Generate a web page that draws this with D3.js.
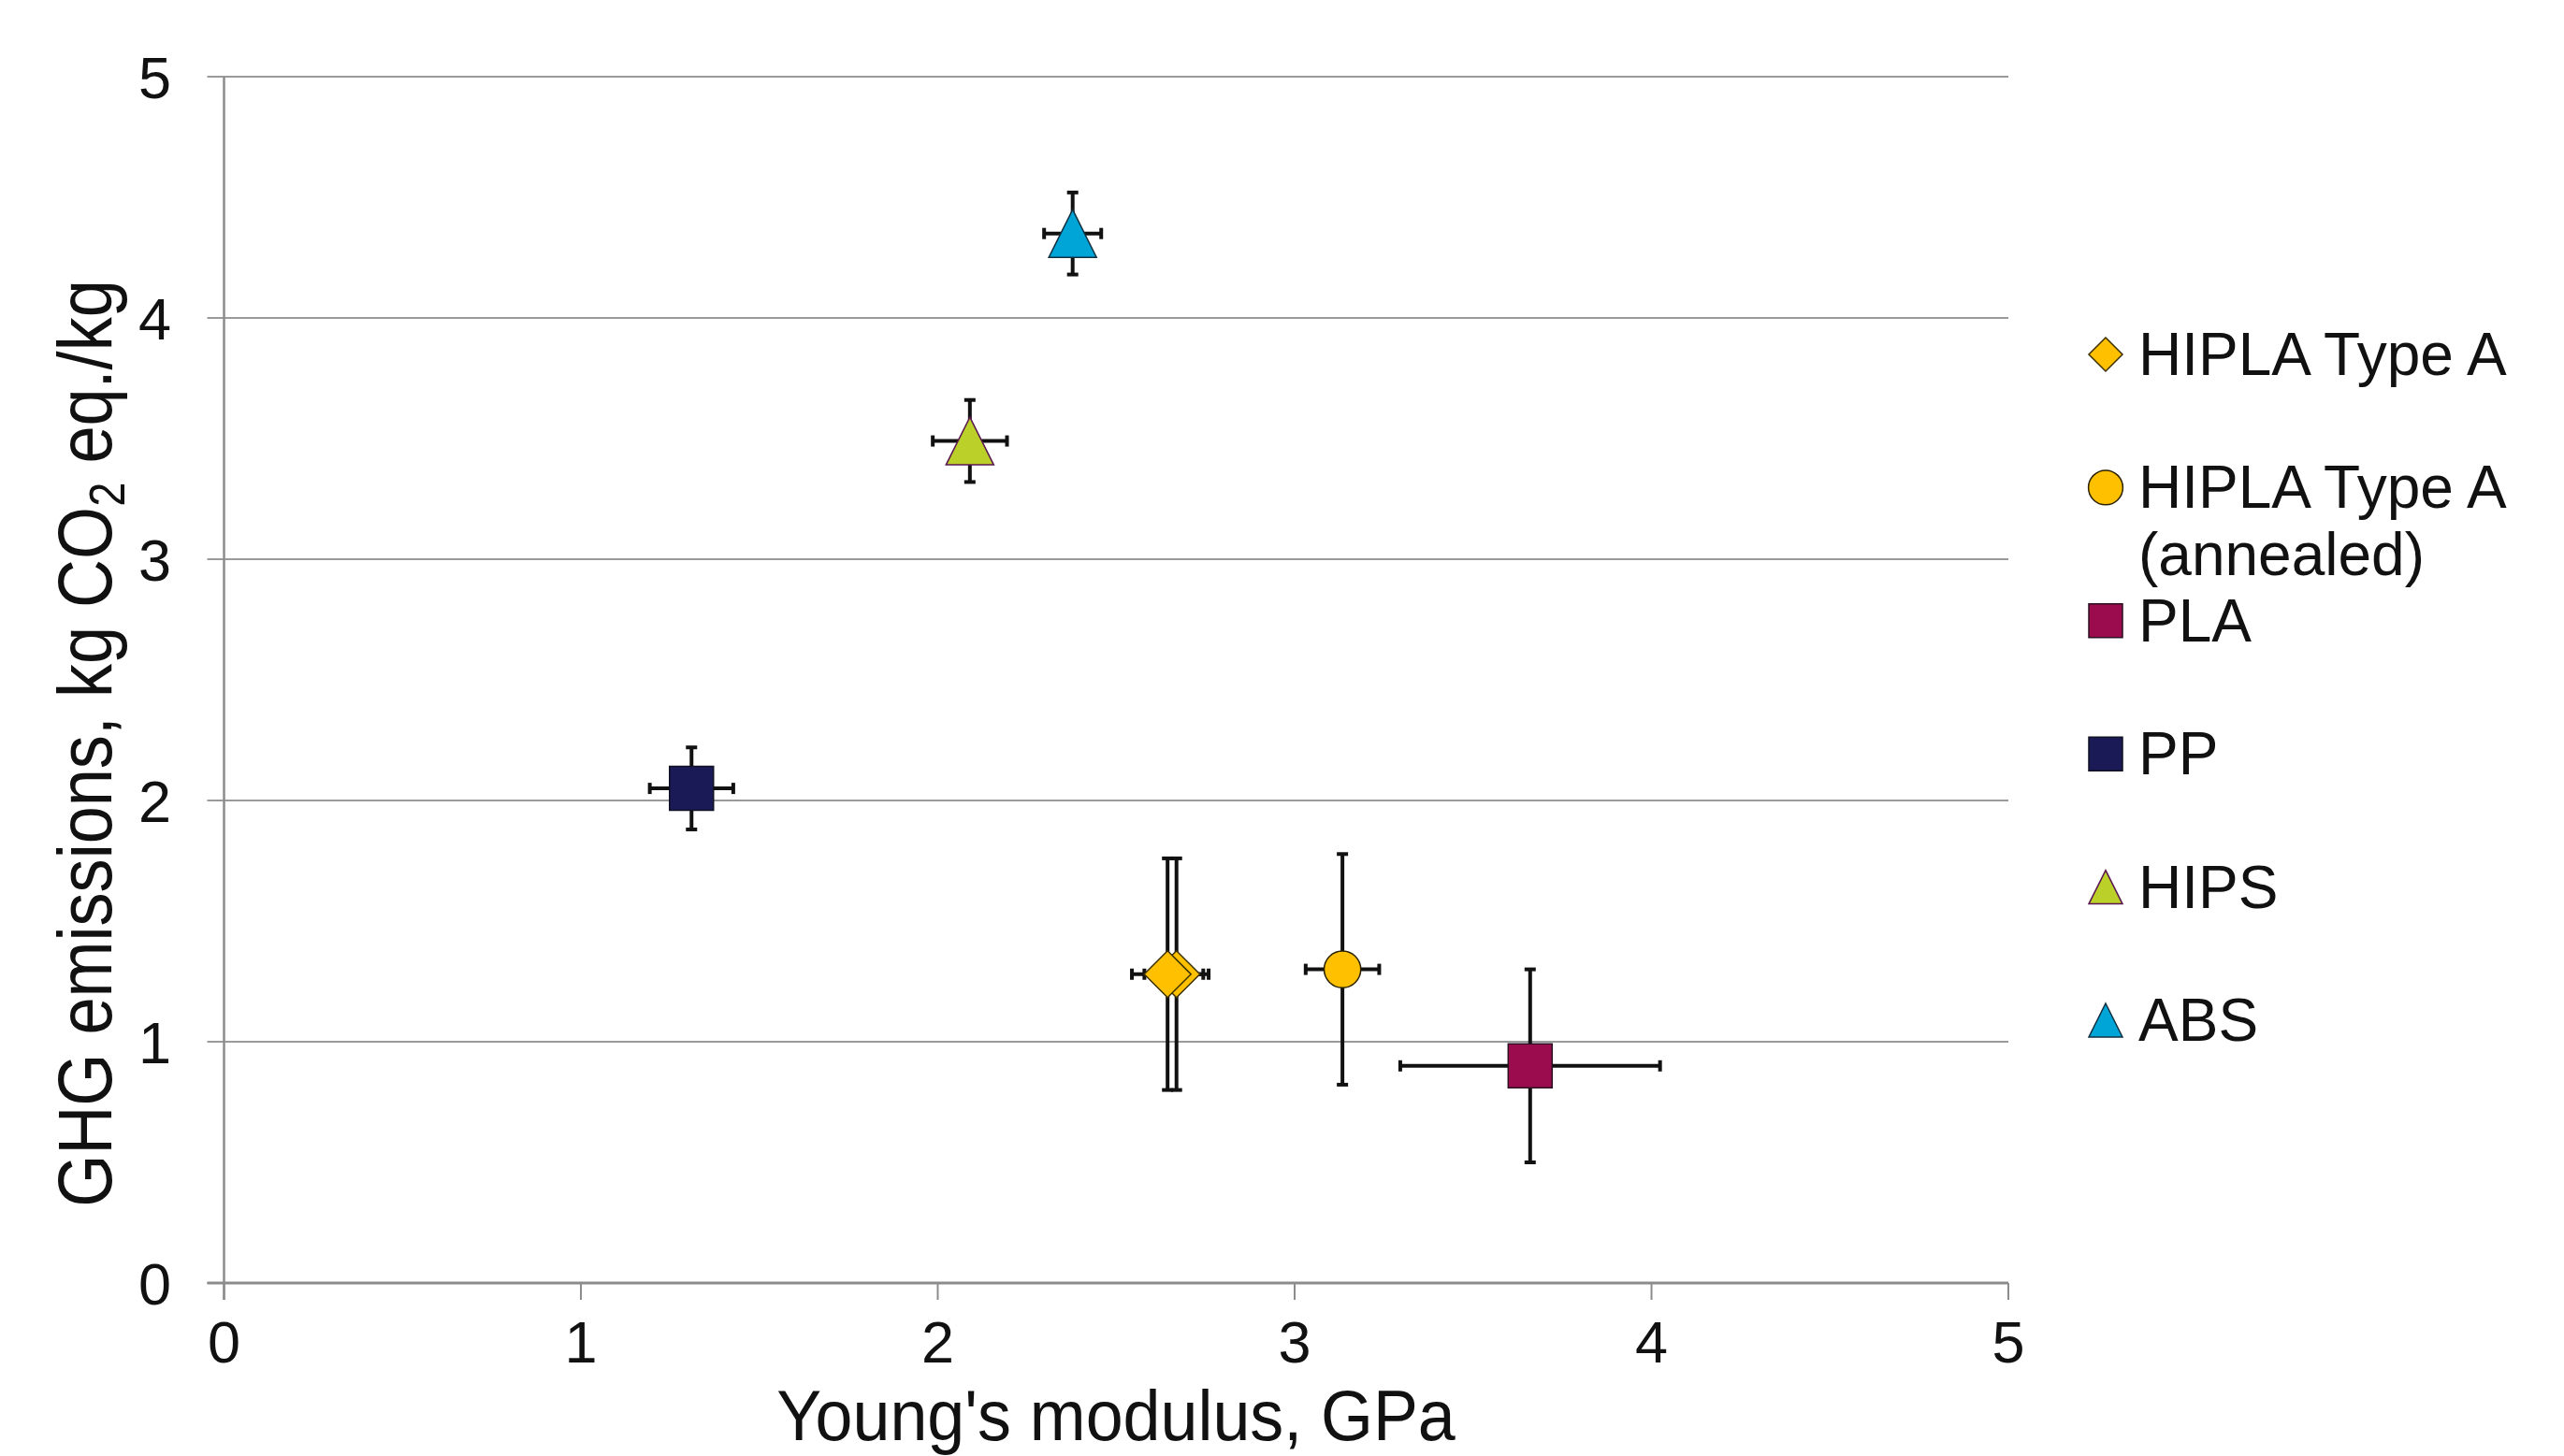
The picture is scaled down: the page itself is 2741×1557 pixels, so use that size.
<!DOCTYPE html>
<html>
<head>
<meta charset="utf-8">
<script src="https://cdn.jsdelivr.net/npm/d3@7"></script>
<style>
  html, body { margin: 0; padding: 0; background: #fff; }
  svg { display: block; }
  text { font-family: "Liberation Sans", Arial, sans-serif; fill: #111; }
</style>
</head>
<body>
<script>
// ---------- data ----------
const seriesNames = ["HIPLA Type A", "HIPLA Type A (annealed)", "PLA", "PP", "HIPS", "ABS"];
const legendLines = [["HIPLA Type A"], ["HIPLA Type A", "(annealed)"], ["PLA"], ["PP"], ["HIPS"], ["ABS"]];

const hiplaA_x    = [2.669, 2.644];
const hiplaA_y    = [1.28, 1.28];
const hiplaA_xerr = [0.09, 0.10];
const hiplaA_yerr = [0.48, 0.48];

const annealed_x    = [3.134];
const annealed_y    = [1.30];
const annealed_xerr = [0.103];
const annealed_yerr = [0.478];

const pla_x    = [3.66];
const pla_y    = [0.90];
const pla_xerr = [0.364];
const pla_yerr = [0.40];

const pp_x    = [1.31];
const pp_y    = [2.05];
const pp_xerr = [0.117];
const pp_yerr = [0.17];

const hips_x    = [2.09];
const hips_y    = [3.49];
const hips_xerr = [0.104];
const hips_yerr = [0.17];

const abs_x    = [2.378];
const abs_y    = [4.35];
const abs_xerr = [0.08];
const abs_yerr = [0.17];

const xTicks = [0, 1, 2, 3, 4, 5];
const yTicks = [0, 1, 2, 3, 4, 5];
const xTitle = "Young's modulus, GPa";

// ---------- styling ----------
const W = 2741, H = 1557;
const styles = {
  "HIPLA Type A":            { shape: "diamond",  fill: "#FFC000", stroke: "#3a3000" },
  "HIPLA Type A (annealed)": { shape: "circle",   fill: "#FFC000", stroke: "#2a2200" },
  "PLA":                     { shape: "square",   fill: "#9B0C4F", stroke: "#2a1020" },
  "PP":                      { shape: "square",   fill: "#1A1A57", stroke: "#111122" },
  "HIPS":                    { shape: "triangle", fill: "#BCD02A", stroke: "#5a1650" },
  "ABS":                     { shape: "triangle", fill: "#00A5D8", stroke: "#103040" }
};

const seriesData = [
  { name: seriesNames[0], xs: hiplaA_x,   ys: hiplaA_y,   xe: hiplaA_xerr,   ye: hiplaA_yerr },
  { name: seriesNames[1], xs: annealed_x, ys: annealed_y, xe: annealed_xerr, ye: annealed_yerr },
  { name: seriesNames[2], xs: pla_x,      ys: pla_y,      xe: pla_xerr,      ye: pla_yerr },
  { name: seriesNames[3], xs: pp_x,       ys: pp_y,       xe: pp_xerr,       ye: pp_yerr },
  { name: seriesNames[4], xs: hips_x,     ys: hips_y,     xe: hips_xerr,     ye: hips_yerr },
  { name: seriesNames[5], xs: abs_x,      ys: abs_y,      xe: abs_xerr,      ye: abs_yerr }
];

const points = [];
seriesData.forEach(s => s.xs.forEach((xv, i) => points.push({
  name: s.name, x: xv, y: s.ys[i], xe: s.xe[i], ye: s.ye[i]
})));

// ---------- scales ----------
const x = d3.scaleLinear().domain([0, 5]).range([239.5, 2147]);
const y = d3.scaleLinear().domain([0, 5]).range([1372, 82]);

const svg = d3.select("body").append("svg").attr("width", W).attr("height", H);

// marker path generator (pixel sizes)
function markerPath(shape, size) {
  const h = size / 2;
  if (shape === "diamond") return `M0,${-h}L${h},0L0,${h}L${-h},0Z`;
  if (shape === "square") return `M${-h},${-h}H${h}V${h}H${-h}Z`;
  if (shape === "triangle") return `M0,${-h}L${h},${h}L${-h},${h}Z`;
  if (shape === "circle") { const r = h * 0.8; return `M${r},0A${r},${r} 0 1,1 ${-r},0A${r},${r} 0 1,1 ${r},0Z`; }
  return "";
}

// ---------- grid ----------
const grid = svg.append("g");
grid.selectAll("line.h").data(yTicks).join("line")
  .attr("x1", x(0) - 18).attr("x2", x(5))
  .attr("y1", d => y(d)).attr("y2", d => y(d))
  .attr("stroke", "#9a9a9a").attr("stroke-width", 2);

// y axis line
svg.append("line").attr("x1", x(0)).attr("x2", x(0)).attr("y1", y(5)).attr("y2", y(0) + 18)
  .attr("stroke", "#8c8c8c").attr("stroke-width", 2.5);
// x axis line
svg.append("line").attr("x1", x(0) - 18).attr("x2", x(5)).attr("y1", y(0)).attr("y2", y(0))
  .attr("stroke", "#8c8c8c").attr("stroke-width", 3);
// x tick marks
svg.append("g").selectAll("line").data(xTicks).join("line")
  .attr("x1", d => x(d)).attr("x2", d => x(d))
  .attr("y1", y(0)).attr("y2", y(0) + 18)
  .attr("stroke", "#8c8c8c").attr("stroke-width", 2);

// tick labels
svg.append("g").selectAll("text").data(yTicks).join("text")
  .attr("x", 183).attr("y", d => y(d)).attr("dy", "0.36em")
  .attr("text-anchor", "end").attr("font-size", 63)
  .text(d => d);
svg.append("g").selectAll("text").data(xTicks).join("text")
  .attr("x", d => x(d)).attr("y", 1457)
  .attr("text-anchor", "middle").attr("font-size", 63)
  .text(d => d);

// axis titles
const xt = svg.append("g").attr("transform", "translate(1193,1540) scale(0.945,1)");
xt.append("text").attr("text-anchor", "middle").attr("font-size", 76).text(xTitle);

const yt = svg.append("g").attr("transform", "translate(119,795) rotate(-90) scale(0.89,1)");
const ytt = yt.append("text").attr("text-anchor", "middle").attr("font-size", 81);
ytt.append("tspan").text("GHG emissions, kg CO");
ytt.append("tspan").attr("font-size", 53).attr("dy", 14).text("2");
ytt.append("tspan").attr("dy", -14).text(" eq./kg");

// ---------- error bars ----------
const eb = svg.append("g").attr("stroke", "#111").attr("stroke-width", 4);
const cap = 6;
points.forEach(p => {
  const cx = x(p.x), cy = y(p.y);
  const x1 = x(p.x - p.xe), x2 = x(p.x + p.xe);
  const y1 = y(p.y + p.ye), y2 = y(p.y - p.ye);
  eb.append("line").attr("x1", x1).attr("x2", x2).attr("y1", cy).attr("y2", cy);
  eb.append("line").attr("x1", x1).attr("x2", x1).attr("y1", cy - cap).attr("y2", cy + cap);
  eb.append("line").attr("x1", x2).attr("x2", x2).attr("y1", cy - cap).attr("y2", cy + cap);
  eb.append("line").attr("x1", cx).attr("x2", cx).attr("y1", y1).attr("y2", y2);
  eb.append("line").attr("x1", cx - cap).attr("x2", cx + cap).attr("y1", y1).attr("y2", y1);
  eb.append("line").attr("x1", cx - cap).attr("x2", cx + cap).attr("y1", y2).attr("y2", y2);
});

// ---------- markers ----------
const mk = { diamond: 50, circle: 49, square: 47, triangle: 51 };
svg.append("g").selectAll("path").data(points).join("path")
  .attr("transform", d => `translate(${x(d.x)},${y(d.y)})`)
  .attr("d", d => markerPath(styles[d.name].shape, mk[styles[d.name].shape]))
  .attr("fill", d => styles[d.name].fill)
  .attr("stroke", d => styles[d.name].stroke)
  .attr("stroke-width", 1.5);

// ---------- legend ----------
const lg = svg.append("g");
const legY0 = 379, legStep = 142.4, legMX = 2251, legTX = 2286;
const lmk = { diamond: 36, circle: 46, square: 36, triangle: 36 };
seriesNames.forEach((n, i) => {
  const cy = legY0 + i * legStep;
  const st = styles[n];
  lg.append("path").attr("transform", `translate(${legMX},${cy})`)
    .attr("d", markerPath(st.shape, lmk[st.shape]))
    .attr("fill", st.fill).attr("stroke", st.stroke).attr("stroke-width", 1.5);
  const t = lg.append("text").attr("x", legTX).attr("y", cy + 22).attr("font-size", 64);
  legendLines[i].forEach((ln, j) => {
    t.append("tspan").attr("x", legTX).attr("dy", j === 0 ? 0 : 72).text(ln);
  });
});
</script>
</body>
</html>
